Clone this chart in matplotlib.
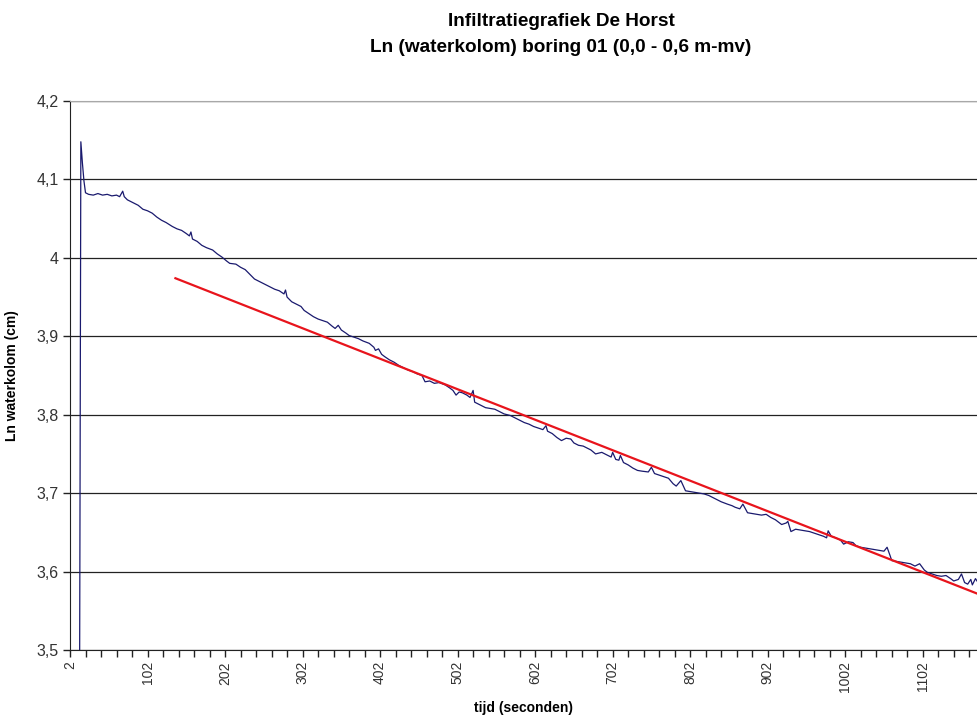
import matplotlib
matplotlib.use("Agg")
import matplotlib.pyplot as plt
import numpy as np
from matplotlib.ticker import FuncFormatter

plt.rcParams['font.family'] = ['Liberation Sans', 'DejaVu Sans']

# measured series: time (s), ln(water column)
tijd = [14, 16, 18, 20, 22, 26, 32, 38, 44, 50, 56, 62, 66, 70, 72, 76, 82, 90, 96, 102,
        108, 114, 120, 126, 134, 140, 146, 152, 156, 158, 160, 166, 172, 178, 186, 192, 198, 204, 208, 216,
        222, 228, 234, 240, 246, 254, 260, 266, 272, 278, 280, 282, 288, 294, 300, 304, 310, 316, 322, 328,
        334, 340, 344, 348, 352, 358, 362, 368, 374, 380, 388, 394, 396, 400, 404, 408, 414, 420, 426, 434,
        438, 444, 450, 456, 460, 466, 472, 478, 486, 492, 496, 500, 504, 508, 514, 518, 522, 524, 530, 538,
        544, 550, 556, 562, 570, 576, 582, 588, 594, 600, 606, 612, 616, 618, 624, 630, 636, 642, 648, 652,
        658, 664, 670, 674, 680, 688, 694, 700, 702, 706, 710, 712, 716, 722, 728, 734, 740, 748, 752, 756,
        762, 768, 774, 780, 784, 790, 796, 802, 808, 814, 820, 826, 830, 836, 842, 850, 856, 860, 866, 870,
        876, 882, 888, 894, 900, 906, 912, 916, 920, 926, 928, 932, 938, 944, 950, 956, 962, 968, 974, 978,
        980, 984, 990, 996, 1000, 1006, 1012, 1016, 1022, 1028, 1034, 1040, 1046, 1052, 1056, 1060, 1062, 1068, 1074, 1080,
        1086, 1092, 1098, 1104, 1108, 1114, 1120, 1126, 1132, 1138, 1142, 1148, 1152, 1156, 1160, 1164, 1166, 1170, 1174]
ln_kolom = [3.300, 4.148, 4.121, 4.098, 4.083, 4.081, 4.080, 4.082, 4.080, 4.081, 4.079, 4.080, 4.078, 4.085, 4.078, 4.074, 4.071, 4.067, 4.062, 4.060,
            4.057, 4.052, 4.048, 4.045, 4.040, 4.037, 4.035, 4.031, 4.028, 4.033, 4.024, 4.021, 4.016, 4.013, 4.010, 4.005, 4.001, 3.996, 3.993, 3.992,
            3.988, 3.985, 3.979, 3.973, 3.970, 3.966, 3.963, 3.960, 3.958, 3.954, 3.959, 3.950, 3.944, 3.941, 3.938, 3.933, 3.929, 3.925, 3.922, 3.920,
            3.918, 3.913, 3.910, 3.914, 3.908, 3.904, 3.901, 3.899, 3.897, 3.894, 3.891, 3.886, 3.882, 3.884, 3.877, 3.874, 3.870, 3.867, 3.863, 3.859,
            3.857, 3.855, 3.852, 3.850, 3.842, 3.843, 3.840, 3.841, 3.838, 3.834, 3.831, 3.825, 3.829, 3.828, 3.825, 3.822, 3.831, 3.816, 3.813, 3.809,
            3.808, 3.807, 3.804, 3.801, 3.799, 3.796, 3.793, 3.790, 3.788, 3.785, 3.783, 3.781, 3.786, 3.779, 3.776, 3.771, 3.767, 3.770, 3.769, 3.764,
            3.761, 3.760, 3.757, 3.755, 3.750, 3.752, 3.749, 3.746, 3.752, 3.743, 3.742, 3.748, 3.739, 3.736, 3.732, 3.729, 3.728, 3.727, 3.733, 3.725,
            3.723, 3.721, 3.719, 3.712, 3.709, 3.716, 3.703, 3.702, 3.701, 3.700, 3.699, 3.697, 3.695, 3.692, 3.689, 3.686, 3.684, 3.682, 3.680, 3.686,
            3.675, 3.674, 3.673, 3.672, 3.673, 3.669, 3.666, 3.663, 3.660, 3.662, 3.664, 3.651, 3.654, 3.653, 3.652, 3.651, 3.649, 3.647, 3.645, 3.643,
            3.652, 3.645, 3.643, 3.640, 3.635, 3.638, 3.637, 3.633, 3.631, 3.630, 3.629, 3.628, 3.627, 3.626, 3.631, 3.620, 3.614, 3.613, 3.612, 3.611,
            3.610, 3.607, 3.610, 3.602, 3.599, 3.597, 3.595, 3.594, 3.595, 3.591, 3.588, 3.590, 3.597, 3.586, 3.584, 3.590, 3.583, 3.591, 3.585]

# fitted line (start / end)
trend_tijd = [138, 1172]
trend_ln = [3.974, 3.572]

fig = plt.figure(figsize=(9.77, 7.2), dpi=100)
ax = fig.add_axes([70/977, 1 - 650/720, 1 - 70/977, 549/720])

ax.plot(tijd, ln_kolom, color='#1a1a6e', lw=0.9)
ax.plot(trend_tijd, trend_ln, color='#e8141c', lw=1.6)

ax.set_xlim(2, 1172)
ax.set_ylim(3.5, 4.2)

# gridlines at every 0.1
ax.set_yticks(np.arange(3.5, 4.21, 0.1))
ax.yaxis.set_major_formatter(FuncFormatter(lambda v, p: f"{round(v, 1):g}".replace('.', ',')))
ax.grid(axis='y', color='#222222', lw=0.9)
ax.set_axisbelow(True)

xt = np.arange(2, 1172, 20)
ax.set_xticks(xt)
ax.set_xticklabels([str(v) if (v - 2) % 100 == 0 else '' for v in xt], rotation=90, va='top')

ax.tick_params(axis='both', direction='out', length=5, width=1, color='#222222',
               labelcolor='#333333', pad=3)
ax.tick_params(axis='y', labelsize=11.5)
ax.tick_params(axis='x', labelsize=10)

ax.spines['right'].set_visible(False)
ax.spines['top'].set_color('#a8a8a8')
ax.spines['left'].set_color('#222222')
ax.spines['bottom'].set_color('#222222')

ax.set_xlabel("tijd (seconden)", fontsize=10, fontweight='bold')
ax.set_ylabel("Ln waterkolom (cm)", fontsize=10, fontweight='bold')
ax.xaxis.set_label_coords((523 - 70) / 907, -51 / 549)
ax.yaxis.set_label_coords((19 - 70) / 907, 0.5)

fig.text(561/977, 1 - 22/720, "Infiltratiegrafiek De Horst", ha='center', va='center',
         fontsize=13.7, fontweight='bold')
fig.text(561/977, 1 - 47/720, "Ln (waterkolom) boring 01 (0,0 - 0,6 m-mv)", ha='center', va='center',
         fontsize=13.7, fontweight='bold')

fig.savefig("out.png", dpi=100)
